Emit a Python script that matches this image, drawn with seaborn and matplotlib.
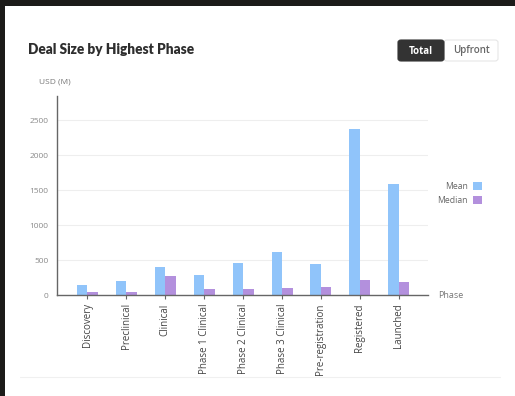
import matplotlib
matplotlib.use("Agg")
import matplotlib.pyplot as plt
from matplotlib.patches import Rectangle, FancyBboxPatch
import seaborn as sns
import pandas as pd

phases = ["Discovery", "Preclinical", "Clinical", "Phase 1 Clinical",
          "Phase 2 Clinical", "Phase 3 Clinical", "Pre-registration",
          "Registered", "Launched"]
mean_usd = [145, 198, 402, 292, 455, 612, 450, 2380, 1590]
median_usd = [42, 45, 278, 88, 90, 106, 110, 212, 192]
series = ["Mean", "Median"]
y_ticks = [0, 500, 1000, 1500, 2000, 2500]

df = pd.DataFrame({
    "Phase": phases * 2,
    "Stat": [series[0]] * len(phases) + [series[1]] * len(phases),
    "USD": mean_usd + median_usd,
})

sns.set_theme(style="white")
plt.rcParams["font.family"] = ["Open Sans", "DejaVu Sans"]

W, H = 515, 396
fig = plt.figure(figsize=(W / 100, H / 100), dpi=100)
fig.patch.set_facecolor("white")

# dark frame edges around the card
fig.add_artist(Rectangle((0, 1 - 6 / H), 1, 6 / H, transform=fig.transFigure,
                         facecolor="#1c1b19", edgecolor="none", zorder=0))
fig.add_artist(Rectangle((0, 0), 5 / W, 1, transform=fig.transFigure,
                         facecolor="#1c1b19", edgecolor="none", zorder=0))
# faint card divider near the bottom
fig.add_artist(plt.Line2D([20 / W, 500 / W], [1 - 377 / H] * 2,
                          transform=fig.transFigure, color="#f0f0f0", lw=0.8))

ax = fig.add_axes([57 / W, 1 - 295 / H, (428 - 57) / W, (295 - 96) / H])

palette = {"Mean": "#90c4fa", "Median": "#b390dd"}
sns.barplot(data=df, x="Phase", y="USD", hue="Stat", order=phases,
            hue_order=series, palette=palette, width=0.54, saturation=1,
            linewidth=0, edgecolor="none", ax=ax, legend=True)

ax.set_xlim(-0.78, 8.75)
ax.set_ylim(0, 2850)
ax.set_yticks(y_ticks)
ax.set_yticklabels([str(v) for v in y_ticks])
ax.yaxis.grid(True, color="#eeeeee", lw=0.8)
ax.set_axisbelow(True)

for s in ["top", "right"]:
    ax.spines[s].set_visible(False)
ax.spines["left"].set_color("#666666")
ax.spines["left"].set_linewidth(1.0)
ax.spines["bottom"].set_color("#666666")
ax.spines["bottom"].set_linewidth(1.0)

ax.tick_params(axis="y", length=0, pad=6, labelsize=6, labelcolor="#8a8a8a")
ax.tick_params(axis="x", length=3, width=0.8, color="#666666", pad=3,
               labelsize=7, labelcolor="#444444", bottom=True)
plt.setp(ax.get_xticklabels(), rotation=90)

ax.set_xlabel("Phase", fontsize=6.5, color="#777777")
ax.xaxis.set_label_coords(1.06, 0.0)
ax.xaxis.label.set_verticalalignment("center")
ax.set_ylabel("USD (M)", fontsize=6, color="#777777", rotation=0)
ax.yaxis.set_label_coords(-0.005, (295 - 82) / (295 - 96))
ax.yaxis.label.set_verticalalignment("center")

ax.legend(title=None, frameon=False, markerfirst=False, fontsize=6.2,
          labelcolor="#666666", handlelength=1.05, handleheight=1.05,
          handletextpad=0.6, labelspacing=0.55, borderaxespad=0,
          loc="center left", bbox_to_anchor=(1.015, 0.51))

fig.text(28 / W, 1 - 50 / H, "Deal Size by Highest Phase", fontsize=9.8,
         fontweight="heavy", color="#2e2e2e", va="center", ha="left",
         family=["Lato", "DejaVu Sans"])

# Total / Upfront toggle
fig.add_artist(FancyBboxPatch((444 / W, 1 - 61 / H), 54 / W, 21 / H,
                              boxstyle="round,pad=0,rounding_size=0.006",
                              transform=fig.transFigure, facecolor="white",
                              edgecolor="#e6e6e6", lw=0.8))
fig.add_artist(FancyBboxPatch((398 / W, 1 - 61 / H), 46 / W, 21 / H,
                              boxstyle="round,pad=0,rounding_size=0.006",
                              transform=fig.transFigure, facecolor="#333333",
                              edgecolor="#333333", lw=0.8))
fig.text(421 / W, 1 - 51 / H, "Total", fontsize=7, fontweight="bold",
         color="white", ha="center", va="center")
fig.text(471 / W, 1 - 51 / H, "Upfront", fontsize=7, fontweight="semibold",
         color="#666666", ha="center", va="center")

fig.savefig("out.png", dpi=100, facecolor="white")
